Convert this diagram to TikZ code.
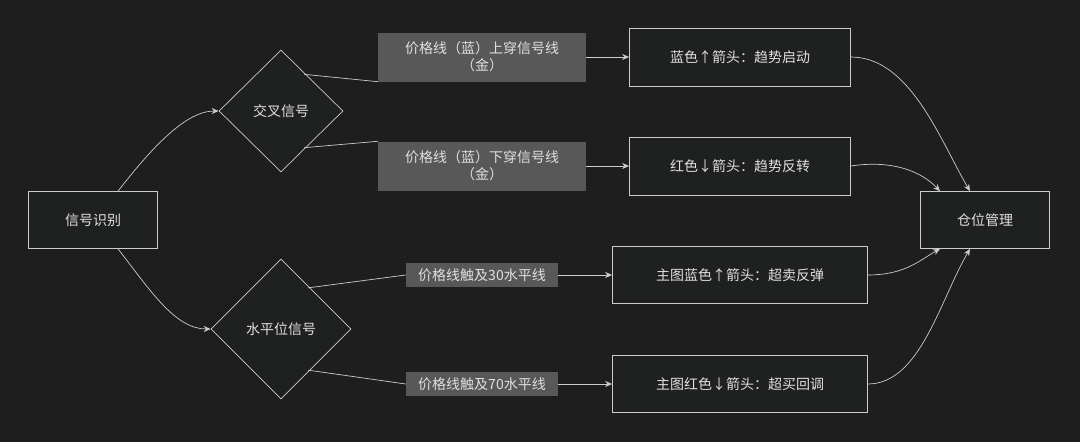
\documentclass[tikz,border=0pt]{standalone}
\usepackage{fontspec}
\setmainfont{Noto Sans CJK SC}
\usetikzlibrary{shapes.geometric,arrows.meta}
\definecolor{bg}{HTML}{1E1E1E}
\definecolor{nf}{HTML}{1F2020}
\definecolor{ln}{HTML}{CCCCCC}
\definecolor{lb}{HTML}{585858}
\definecolor{tx}{HTML}{E0E0E0}
\begin{document}
\begin{tikzpicture}[x=1pt,y=-1pt,
 box/.style={draw=ln,fill=nf,text=tx,font=\fontsize{14}{17}\selectfont,minimum height=57pt,line width=0.7pt},
 dia/.style={diamond,draw=ln,fill=nf,text=tx,font=\fontsize{14}{17}\selectfont,inner sep=0pt,line width=0.7pt},
 lab/.style={fill=lb,text=tx,font=\fontsize{14}{17}\selectfont,inner sep=2pt,align=center},
 edge/.style={draw=ln,line width=0.7pt},
 arr/.style={edge,-{Stealth[length=7pt,width=6pt]}}]
\useasboundingbox[fill=bg] (0,0) rectangle (1080,442);
\node[box,minimum width=129pt] (s) at (93,220) {信号识别};
\node[dia,minimum width=124pt,minimum height=122pt] (c) at (281,111) {交叉信号};
\node[dia,minimum width=140pt,minimum height=140pt] (h) at (281,329) {水平位信号};
\node[lab,minimum width=208pt,minimum height=49pt] (l1) at (482,57) {价格线（蓝）上穿信号线\\（金）};
\node[lab,minimum width=208pt,minimum height=49pt] (l2) at (482,166) {价格线（蓝）下穿信号线\\（金）};
\node[lab,minimum width=152pt,minimum height=24pt] (l3) at (482,275) {价格线触及30水平线};
\node[lab,minimum width=152pt,minimum height=24pt] (l4) at (482,384) {价格线触及70水平线};
\node[box,minimum width=221pt,minimum height=58pt] (b1) at (740,57) {蓝色↑箭头：趋势启动};
\node[box,minimum width=221pt,minimum height=58pt] (b2) at (740,166) {红色↓箭头：趋势反转};
\node[box,minimum width=255pt] (b3) at (740,275) {主图蓝色↑箭头：超卖反弹};
\node[box,minimum width=255pt] (b4) at (740,384) {主图红色↓箭头：超买回调};
\node[box,minimum width=129pt] (p) at (985,220) {仓位管理};
\draw[arr] (s.north)++(25,0) coordinate (s1) .. controls (150,150) and (185,111) .. (c.west);
\draw[arr] (s.south)++(25,0) coordinate (s2) .. controls (150,290) and (175,329) .. (h.west);
\draw[edge] (c.north east)++(-8,-6) coordinate (c1) -- (l1.south west);
\draw[edge] (c.south east)++(-8,6) coordinate (c2) -- (l2.north west);
\draw[edge] (h.north east)++(-8,-6) coordinate (h1) -- (l3.west);
\draw[edge] (h.south east)++(-8,6) coordinate (h2) -- (l4.west);
\draw[arr] (l1) -- (b1);
\draw[arr] (l2) -- (b2);
\draw[arr] (l3) -- (b3);
\draw[arr] (l4) -- (b4);
\draw[arr] (b1.east) .. controls (910,57) and (940,140) .. ([xshift=-15pt]p.north);
\draw[arr] (b2.east) .. controls (890,160) and (920,170) .. ([xshift=-45pt]p.north);
\draw[arr] (b3.east) .. controls (905,275) and (920,260) .. ([xshift=-45pt]p.south);
\draw[arr] (b4.east) .. controls (920,384) and (940,300) .. ([xshift=-15pt]p.south);
\end{tikzpicture}
\end{document}
